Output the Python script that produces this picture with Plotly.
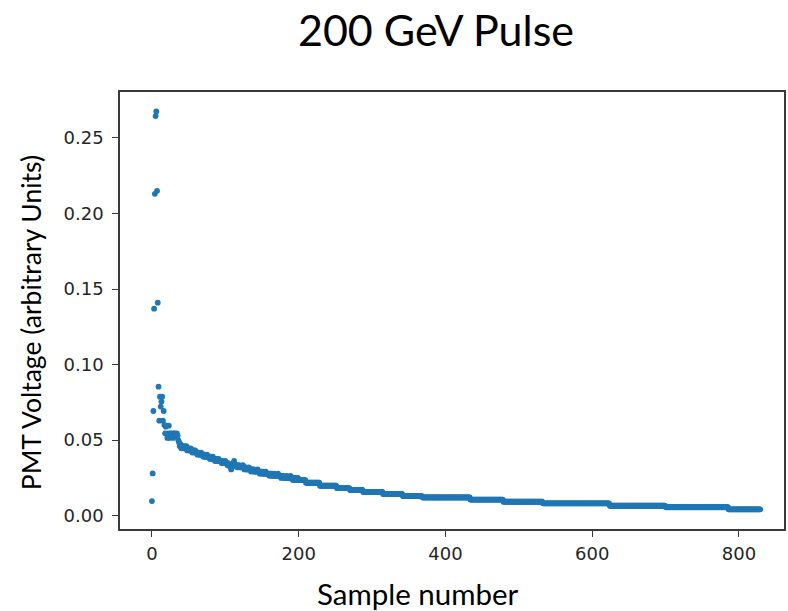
import plotly.graph_objects as go

# ---- data ----
# samples 0..37 (pulse rise and ringing), one value per sample
early_values = [
    0.0097, 0.0280, 0.0693, 0.1370, 0.2130, 0.2645, 0.2675, 0.2150, 0.1410, 0.0854,
    0.0629, 0.0788, 0.0722, 0.0755, 0.0788, 0.0629, 0.0693, 0.0600, 0.0545, 0.0589,
    0.0596, 0.0515, 0.0545, 0.0596, 0.0515, 0.0545, 0.0530, 0.0545, 0.0530, 0.0515,
    0.0545, 0.0545, 0.0530, 0.0530, 0.0545, 0.0530, 0.0500, 0.0485,
]
early_start = 0

# samples 38..199 (noisy decay), one value per sample
mid_values = [
    0.0460, 0.0474, 0.0446, 0.0460, 0.0460, 0.0446, 0.0460, 0.0446, 0.0446, 0.0460,
    0.0432, 0.0446, 0.0446, 0.0432, 0.0432, 0.0446, 0.0432, 0.0418, 0.0432, 0.0432,
    0.0418, 0.0432, 0.0418, 0.0418, 0.0404, 0.0418, 0.0418, 0.0404, 0.0404, 0.0418,
    0.0404, 0.0404, 0.0390, 0.0404, 0.0404, 0.0390, 0.0390, 0.0404, 0.0390, 0.0390,
    0.0390, 0.0376, 0.0390, 0.0376, 0.0376, 0.0390, 0.0376, 0.0376, 0.0362, 0.0376,
    0.0376, 0.0362, 0.0362, 0.0376, 0.0362, 0.0362, 0.0362, 0.0348, 0.0362, 0.0348,
    0.0348, 0.0348, 0.0362, 0.0348, 0.0348, 0.0334, 0.0348, 0.0334, 0.0334, 0.0320,
    0.0306, 0.0320, 0.0334, 0.0348, 0.0362, 0.0334, 0.0334, 0.0334, 0.0320, 0.0334,
    0.0320, 0.0334, 0.0320, 0.0320, 0.0320, 0.0320, 0.0334, 0.0320, 0.0306, 0.0320,
    0.0320, 0.0306, 0.0306, 0.0306, 0.0320, 0.0306, 0.0306, 0.0292, 0.0306, 0.0306,
    0.0292, 0.0306, 0.0292, 0.0292, 0.0292, 0.0292, 0.0306, 0.0292, 0.0292, 0.0278,
    0.0292, 0.0292, 0.0278, 0.0292, 0.0278, 0.0278, 0.0278, 0.0292, 0.0278, 0.0278,
    0.0278, 0.0278, 0.0264, 0.0278, 0.0278, 0.0264, 0.0278, 0.0264, 0.0264, 0.0278,
    0.0264, 0.0264, 0.0264, 0.0264, 0.0278, 0.0264, 0.0264, 0.0264, 0.0250, 0.0264,
    0.0264, 0.0250, 0.0264, 0.0250, 0.0250, 0.0250, 0.0264, 0.0250, 0.0250, 0.0250,
    0.0250, 0.0264, 0.0250, 0.0250, 0.0236, 0.0250, 0.0250, 0.0236, 0.0250, 0.0236,
    0.0236, 0.0250,
]
mid_start = 38

# samples 200..829: quantised plateaus (first sample, last sample + 1, level)
step_start = [200, 210, 229, 252, 270, 288, 315, 342, 369, 434, 479, 533, 624, 700, 786]
step_end = [210, 229, 252, 270, 288, 315, 342, 369, 434, 479, 533, 624, 700, 786, 830]
step_level = [0.0236, 0.0218, 0.0199, 0.0183, 0.0170, 0.0157, 0.0144, 0.0130,
              0.0121, 0.0107, 0.0093, 0.0082, 0.0066, 0.0056, 0.0042]

x_ticks = [0, 200, 400, 600, 800]
y_ticks = [0.00, 0.05, 0.10, 0.15, 0.20, 0.25]

title_text = "200 GeV Pulse"
x_title = "Sample number"
y_title = "PMT Voltage (arbitrary Units)"

# ---- assemble the sample list ----
xs, ys = [], []
for i, v in enumerate(early_values):
    xs.append(early_start + i)
    ys.append(v)
for i, v in enumerate(mid_values):
    xs.append(mid_start + i)
    ys.append(v)
for s, e, lv in zip(step_start, step_end, step_level):
    for n in range(s, e):
        xs.append(n)
        ys.append(lv)

fig = go.Figure()
fig.add_trace(go.Scatter(
    x=xs, y=ys, mode="markers",
    marker=dict(color="#1f77b4", size=5.8, line=dict(width=0)),
    showlegend=False, hoverinfo="skip",
))

W, H = 788, 611
L, R, T, B = 120, 2, 92, 82
axis_col = "#3a3a3a"
tick_font = dict(family="DejaVu Sans", size=18, color="#262626")

fig.update_layout(
    width=W, height=H,
    margin=dict(l=L, r=R, t=T, b=B, pad=0),
    paper_bgcolor="white", plot_bgcolor="white",
    title=dict(text=title_text, x=436 / W, xanchor="center",
               y=1 - 31 / H, yanchor="middle",
               font=dict(family="Lato", size=43, color="#000000")),
    xaxis=dict(range=[-43.5, 861.4], tickvals=x_ticks, ticktext=[str(v) for v in x_ticks],
               showgrid=False, zeroline=False, showline=True, mirror=True,
               linecolor=axis_col, linewidth=1.5, ticks="outside", ticklen=6,
               tickcolor=axis_col, tickwidth=1.3, tickfont=tick_font,
               ticklabelstandoff=2),
    yaxis=dict(range=[-0.0088, 0.2804], tickvals=y_ticks,
               ticktext=[f"{v:.2f}" for v in y_ticks],
               showgrid=False, zeroline=False, showline=True, mirror=True,
               linecolor=axis_col, linewidth=1.5, ticks="outside", ticklen=6,
               tickcolor=axis_col, tickwidth=1.3, tickfont=tick_font,
               ticklabelstandoff=5),
    annotations=[
        dict(text=x_title, xref="paper", yref="paper",
             x=(419 - L) / (W - L - R), y=(H - B - 593) / (H - T - B),
             xanchor="center", yanchor="middle", showarrow=False, borderpad=0,
             font=dict(family="Lato", size=29.5, color="#000000")),
        dict(text=y_title, xref="paper", yref="paper",
             x=(31 - L) / (W - L - R), y=(H - B - 323) / (H - T - B),
             xanchor="center", yanchor="middle", showarrow=False, textangle=-90,
             borderpad=0,
             font=dict(family="Lato", size=26.5, color="#000000")),
    ],
)

fig.write_html("out.html")
